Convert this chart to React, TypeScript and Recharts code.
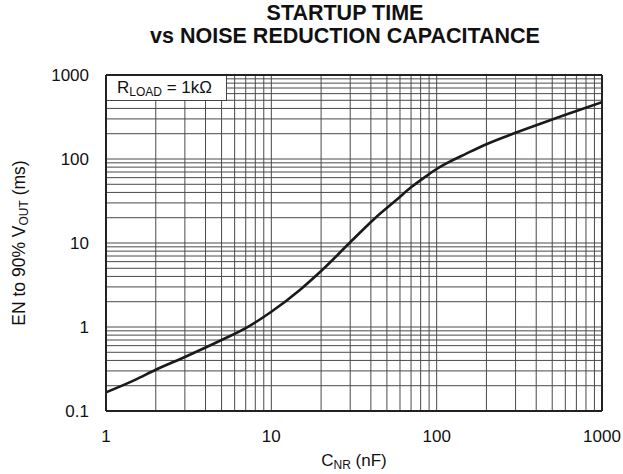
import { LineChart, Line, XAxis, YAxis, ReferenceLine } from 'recharts'

// startup time (EN to 90% Vout) vs noise reduction capacitance, RLOAD = 1k
const capNF = [1, 1.5, 2, 3, 5, 7, 10, 15, 20, 30, 43, 57, 70, 85, 100, 120, 150, 200, 300, 500, 700, 1000]
const startupMs = [0.167, 0.235, 0.31, 0.44, 0.7, 0.97, 1.52, 2.8, 4.64, 10.2, 20.3, 32.5, 46, 61, 76, 93, 115, 150, 205, 296, 372, 475]

const xTicks = [1, 10, 100, 1000]
const yTicks = [0.1, 1, 10, 100, 1000]

const steps = [1, 2, 3, 4, 5, 6, 7, 8, 9]
const xDecades = [1, 10, 100]
const yDecades = [0.1, 1, 10, 100]

// log grid: 1..9 in every decade
const xGrid = xDecades.flatMap((d) => steps.map((s) => s * d)).slice(1)
const yGrid = yDecades.flatMap((d) => steps.map((s) => s * d)).slice(1)

const data = capNF.map((c, i) => ({ c, t: startupMs[i] }))

const font = '"Liberation Sans", Arial, Helvetica, sans-serif'

const fmt = (v: number) => (v < 1 ? String(v) : String(Math.round(v)))

export default function App() {
  return (
    <div style={{ position: 'absolute', left: 0, top: 0, width: 623, height: 474, fontFamily: font, color: '#111', background: '#fff' }}>
      <div style={{ position: 'absolute', left: 345, top: 2, transform: 'translateX(-50%)', whiteSpace: 'nowrap', fontWeight: 'bold', fontSize: 21.5, lineHeight: '23px', textAlign: 'center' }}>
        STARTUP TIME
        <br />
        vs NOISE REDUCTION CAPACITANCE
      </div>

      <LineChart width={623} height={474} data={data} margin={{ top: 75, right: 21, bottom: 0, left: 0 }}>
        {xGrid.map((v) => (
          <ReferenceLine key={'x' + v} x={v} stroke="#4a4a4a" strokeWidth={1} />
        ))}
        {yGrid.map((v) => (
          <ReferenceLine key={'y' + v} y={v} stroke="#4a4a4a" strokeWidth={1} />
        ))}
        <XAxis
          dataKey="c"
          type="number"
          scale="log"
          domain={[1, 1000]}
          ticks={xTicks}
          allowDataOverflow
          height={63}
          tickLine={false}
          tickSize={6}
          tickMargin={13}
          axisLine={{ stroke: '#222', strokeWidth: 2 }}
          tick={{ fontSize: 17, fill: '#111', fontFamily: font }}
          tickFormatter={fmt}
        />
        <YAxis
          type="number"
          scale="log"
          domain={[0.1, 1000]}
          ticks={yTicks}
          allowDataOverflow
          width={106}
          tickLine={false}
          tickSize={6}
          tickMargin={11}
          axisLine={{ stroke: '#222', strokeWidth: 2 }}
          tick={{ fontSize: 17, fill: '#111', fontFamily: font }}
          tickFormatter={fmt}
        />
        <ReferenceLine y={1000} stroke="#222" strokeWidth={2} />
        <ReferenceLine x={1000} stroke="#222" strokeWidth={2} />
        <Line dataKey="t" type="monotone" stroke="#1a1a1a" strokeWidth={2.6} dot={false} isAnimationActive={false} />
      </LineChart>

      <div style={{ position: 'absolute', left: 107, top: 76, width: 120, height: 25, background: '#fff', borderRight: '1px solid #444', borderBottom: '1px solid #444', fontSize: 17, lineHeight: '24px', paddingLeft: 10, boxSizing: 'border-box', whiteSpace: 'nowrap' }}>
        R<sub style={{ fontSize: 12, verticalAlign: '-3px' }}>LOAD</sub> = 1kΩ
      </div>

      <div style={{ position: 'absolute', left: 354, top: 451, transform: 'translateX(-50%)', fontSize: 17, whiteSpace: 'nowrap' }}>
        C<sub style={{ fontSize: 12, verticalAlign: '-3px' }}>NR</sub> (nF)
      </div>

      <div style={{ position: 'absolute', left: 20, top: 243, transform: 'translate(-50%, -50%) rotate(-90deg)', fontSize: 17.5, whiteSpace: 'nowrap' }}>
        EN to 90% V<sub style={{ fontSize: 12, verticalAlign: '-3px' }}>OUT</sub> (ms)
      </div>
    </div>
  )
}
